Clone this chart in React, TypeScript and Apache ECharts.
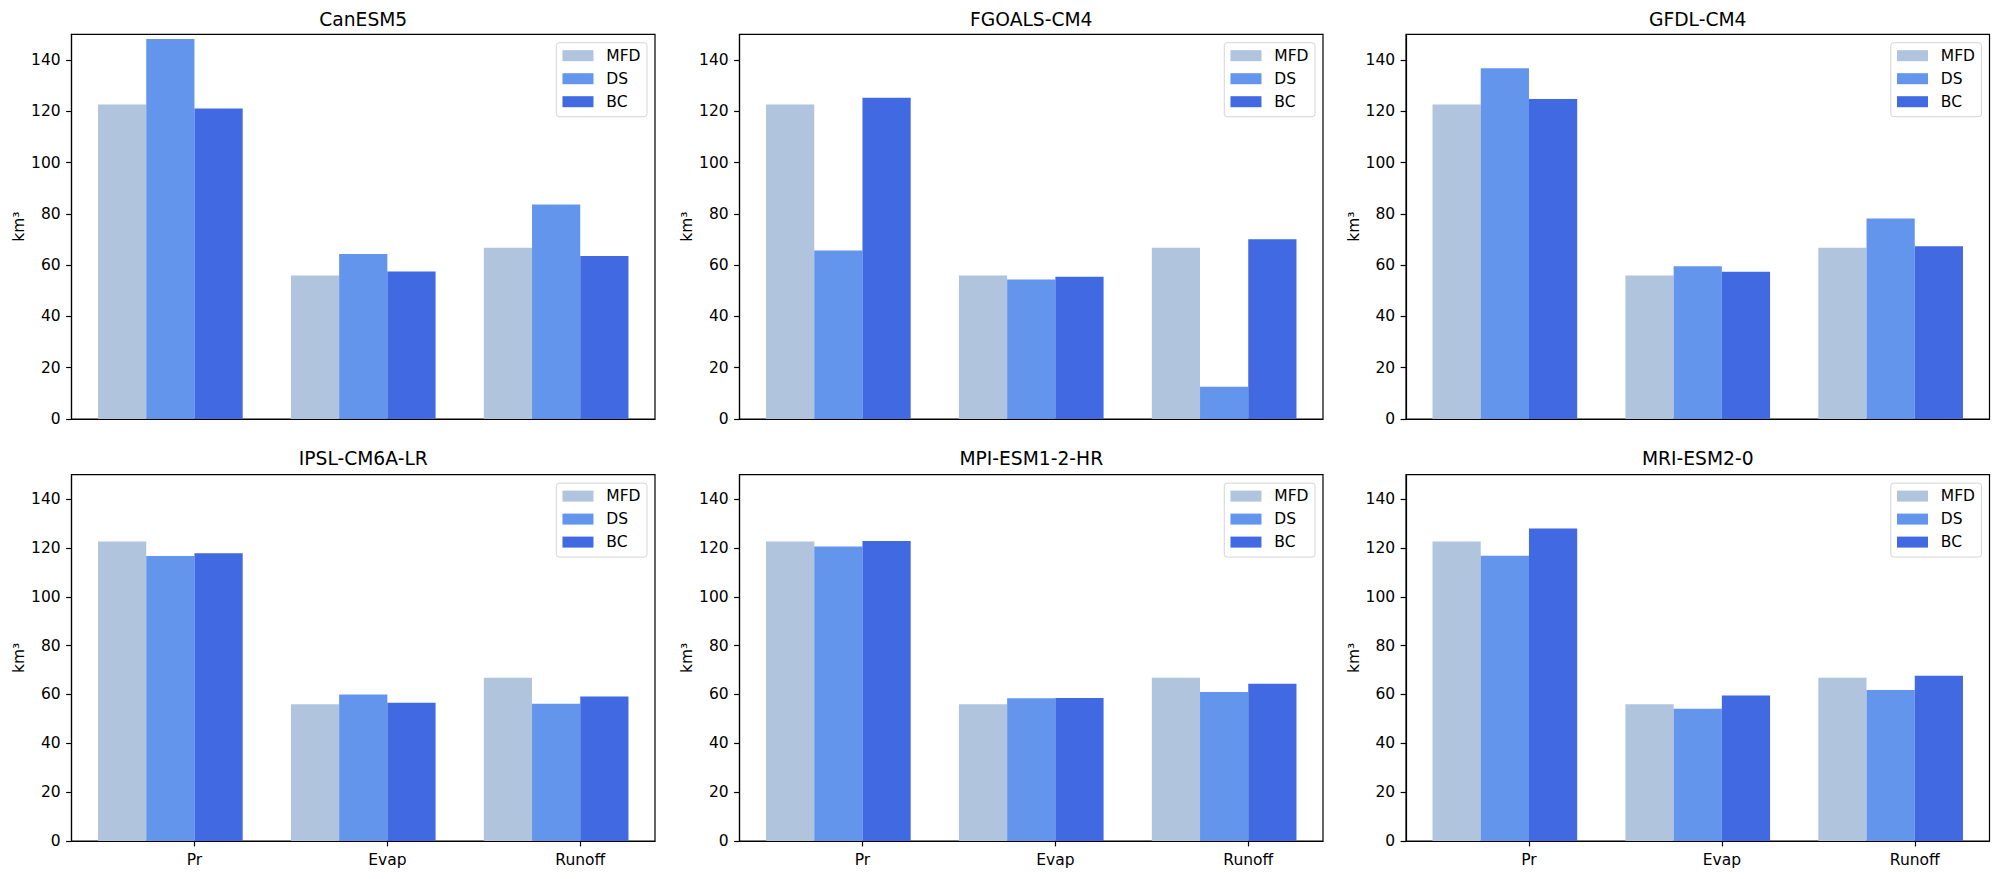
import React, { useEffect, useRef } from "react";
import * as echarts from "echarts";

// ---- data ----
const categories = ["Pr", "Evap", "Runoff"];
const seriesNames = ["MFD", "DS", "BC"];
const models = ["CanESM5", "FGOALS-CM4", "GFDL-CM4", "IPSL-CM6A-LR", "MPI-ESM1-2-HR", "MRI-ESM2-0"];
const mfd = [122.6, 56.0, 66.8];
const dsCanESM5 = [148.2, 64.3, 83.6];
const bcCanESM5 = [121.1, 57.5, 63.6];
const dsFGOALS = [65.7, 54.4, 12.6];
const bcFGOALS = [125.3, 55.5, 70.1];
const dsGFDL = [136.8, 59.6, 78.2];
const bcGFDL = [124.8, 57.4, 67.4];
const dsIPSL = [116.7, 60.0, 56.2];
const bcIPSL = [117.8, 56.6, 59.2];
const dsMPI = [120.6, 58.5, 61.0];
const bcMPI = [122.8, 58.6, 64.4];
const dsMRI = [116.8, 54.2, 61.8];
const bcMRI = [128.0, 59.6, 67.7];
const yTicks = [0, 20, 40, 60, 80, 100, 120, 140];
const xTicks = [0, 1, 2];

const dsByModel = [dsCanESM5, dsFGOALS, dsGFDL, dsIPSL, dsMPI, dsMRI];
const bcByModel = [bcCanESM5, bcFGOALS, bcGFDL, bcIPSL, bcMPI, bcMRI];

// ---- styling / layout ----
const colors = ["#B0C4DE", "#6495ED", "#4169E1"];
const barOffsets = [
  [-0.5, -0.25],
  [-0.25, 0],
  [0, 0.25],
];
const FONT = "DejaVu Sans";
const colLefts = [71.5, 739.5, 1406];
const colWidth = 583.5;
const rowTops = [34.3, 474.7];
const rowHeights = [384.7, 366.3];
const titleTops = [9.5, 448.6];

function buildOption() {
  const grid: any[] = [];
  const xAxis: any[] = [];
  const yAxis: any[] = [];
  const title: any[] = [];
  const legend: any[] = [];
  const series: any[] = [];

  models.forEach((name, k) => {
    const r = Math.floor(k / 3);
    const c = k % 3;
    const left = colLefts[c];
    const top = rowTops[r];
    grid.push({
      left,
      top,
      width: colWidth,
      height: rowHeights[r],
      show: true,
      borderColor: "#000",
      borderWidth: 1.2,
      backgroundColor: "transparent",
      containLabel: false,
    });
    const bottomRow = r === 1;
    xAxis.push({
      type: "value",
      gridIndex: k,
      min: -0.6375,
      max: 2.3875,
      z: 10,
      axisLine: { show: true, onZero: false, lineStyle: { color: "#000", width: 1.2 } },
      axisTick: {
        show: bottomRow,
        length: 5.4,
        customValues: xTicks,
        lineStyle: { color: "#000", width: 1.2 },
      },
      axisLabel: {
        show: bottomRow,
        customValues: xTicks,
        formatter: (v: number) => categories[Math.round(v)] ?? "",
        margin: 10.8,
        fontSize: 15.5,
        fontFamily: FONT,
        color: "#000",
      },
      splitLine: { show: false },
    });
    yAxis.push({
      type: "value",
      gridIndex: k,
      min: 0,
      max: 150,
      z: 10,
      name: "km³",
      nameLocation: "middle",
      nameGap: 44,
      nameTextStyle: { fontSize: 15.5, fontFamily: FONT, color: "#000" },
      axisLine: { show: true, onZero: false, lineStyle: { color: "#000", width: 1.2 } },
      axisTick: {
        show: true,
        length: 5.4,
        customValues: yTicks,
        lineStyle: { color: "#000", width: 1.2 },
      },
      axisLabel: {
        customValues: yTicks,
        margin: 10.8,
        fontSize: 15.5,
        fontFamily: FONT,
        color: "#000",
      },
      splitLine: { show: false },
    });
    title.push({
      text: name,
      left: left + colWidth / 2,
      top: titleTops[r],
      textAlign: "center",
      padding: 0,
      textStyle: { fontSize: 18.7, fontWeight: "normal", fontFamily: FONT, color: "#000", lineHeight: 19 },
    });
    legend.push({
      data: seriesNames,
      orient: "vertical",
      right: 2000 - (left + colWidth - 8),
      top: top + 8.4,
      icon: "rect",
      itemWidth: 31,
      itemHeight: 11,
      itemGap: 7,
      padding: [5, 6.5, 7, 6.2],
      backgroundColor: "rgba(255,255,255,0.8)",
      borderColor: "#d5d5d5",
      borderWidth: 1,
      borderRadius: 3,
      selectedMode: false,
      textStyle: { fontSize: 15.5, fontFamily: FONT, color: "#000", lineHeight: 16, padding: [0, 0, 0, 7.8] },
    });
    const values = [mfd, dsByModel[k], bcByModel[k]];
    values.forEach((vals, s) => {
      const [o0, o1] = barOffsets[s];
      series.push({
        type: "custom",
        name: seriesNames[s],
        xAxisIndex: k,
        yAxisIndex: k,
        itemStyle: { color: colors[s] },
        encode: { x: 0, y: 1 },
        clip: true,
        data: vals.map((v, i) => [i, v]),
        renderItem: (_params: any, api: any) => {
          const x = api.value(0);
          const v = api.value(1);
          const p0 = api.coord([x + o0, v]);
          const p1 = api.coord([x + o1, 0]);
          return {
            type: "rect",
            shape: { x: p0[0], y: p0[1], width: p1[0] - p0[0], height: p1[1] - p0[1] },
            style: { fill: colors[s] },
          };
        },
      });
    });
  });

  return {
    animation: false,
    backgroundColor: "#fff",
    textStyle: { fontFamily: FONT },
    grid,
    xAxis,
    yAxis,
    title,
    legend,
    series,
  };
}

export default function App() {
  const ref = useRef<HTMLDivElement>(null);
  useEffect(() => {
    if (!ref.current) return;
    const chart = echarts.init(ref.current, null, { renderer: "svg" });
    chart.setOption(buildOption() as any);
    return () => chart.dispose();
  }, []);
  return (
    <div
      ref={ref}
      style={{ position: "absolute", left: 0, top: 0, width: 2000, height: 879, background: "#fff" }}
    />
  );
}
